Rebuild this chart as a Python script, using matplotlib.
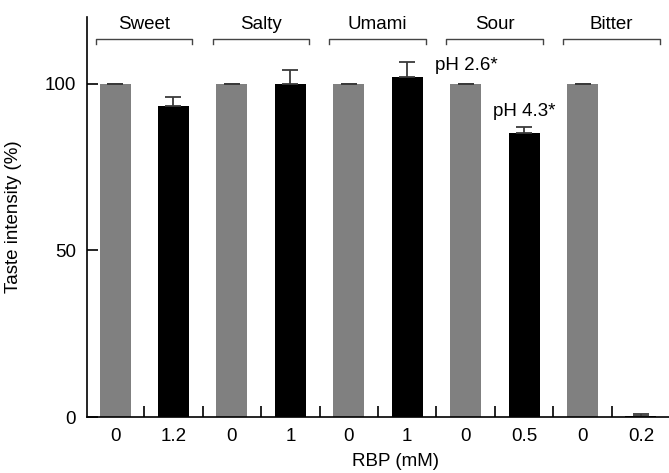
import numpy as np
import matplotlib.pyplot as plt

plt.rcParams['font.family'] = ['Liberation Sans', 'DejaVu Sans']

# data
tastes = ['Sweet', 'Salty', 'Umami', 'Sour', 'Bitter']
doses = ['0', '1.2', '0', '1', '0', '1', '0', '0.5', '0', '0.2']
control = [100, 100, 100, 100, 100]
control_err = [0, 0, 0, 0, 0]
rbp = [93.4, 100.0, 102.0, 85.3, 0.5]
rbp_err = [2.7, 4.0, 4.6, 1.8, 0.6]
notes = {'Umami': 'pH 2.6*', 'Sour': 'pH 4.3*'}

fig = plt.figure(figsize=(6.69, 4.73), dpi=100)
ax = fig.add_axes([0.130, 0.118, 0.870, 0.846])

x_ctl = np.arange(len(tastes)) * 2
x_rbp = x_ctl + 1
w = 0.53
ekw = dict(ecolor='#3a3a3a', elinewidth=1.3, capsize=5.5, capthick=1.3)

ax.bar(x_ctl, control, width=w, color='#808080')
ax.errorbar(x_ctl, control, yerr=[np.zeros(5), control_err], fmt='none', **ekw)
ax.bar(x_rbp, rbp, width=w, color='black')
ax.errorbar(x_rbp, rbp, yerr=[np.zeros(5), rbp_err], fmt='none', **ekw)

# brackets with taste names above each pair
for i, name in enumerate(tastes):
    x0 = x_ctl[i] - 0.33
    x1 = x_rbp[i] + 0.32
    ax.plot([x0, x0, x1, x1], [112.0, 113.4, 113.4, 112.0], color='#444444',
            lw=1.0, clip_on=False)
    ax.text((x0 + x1) / 2, 117.8, name, ha='center', va='center', fontsize=13.5)

ax.text(x_rbp[2] + 0.47, 105.4, notes['Umami'], ha='left', va='center', fontsize=13.5)
ax.text(x_rbp[3], 91.6, notes['Sour'], ha='center', va='center', fontsize=13.5)

ax.set_xlim(-0.48, 9.48)
ax.set_ylim(0, 120)
ax.set_yticks([0, 50, 100])
ax.set_xticks(np.arange(10))
ax.set_xticklabels(doses)
ax.set_xticks(np.arange(9) + 0.5, minor=True)
ax.tick_params(axis='x', which='major', length=0, pad=8, labelsize=13.5)
ax.tick_params(axis='x', which='minor', direction='in', length=8, width=1.2)
ax.tick_params(axis='y', direction='in', length=8, width=1.2, pad=8, labelsize=13.5)

for s in ['top', 'right']:
    ax.spines[s].set_visible(False)
ax.spines['left'].set_linewidth(1.2)
ax.spines['bottom'].set_linewidth(1.2)

ax.set_xlabel('RBP (mM)', fontsize=13.5)
ax.xaxis.set_label_coords(0.53, -0.09)
ax.set_ylabel('Taste intensity (%)', fontsize=13.5)
ax.yaxis.set_label_coords(-0.112, 0.5)

fig.savefig('out.png', dpi=100)
